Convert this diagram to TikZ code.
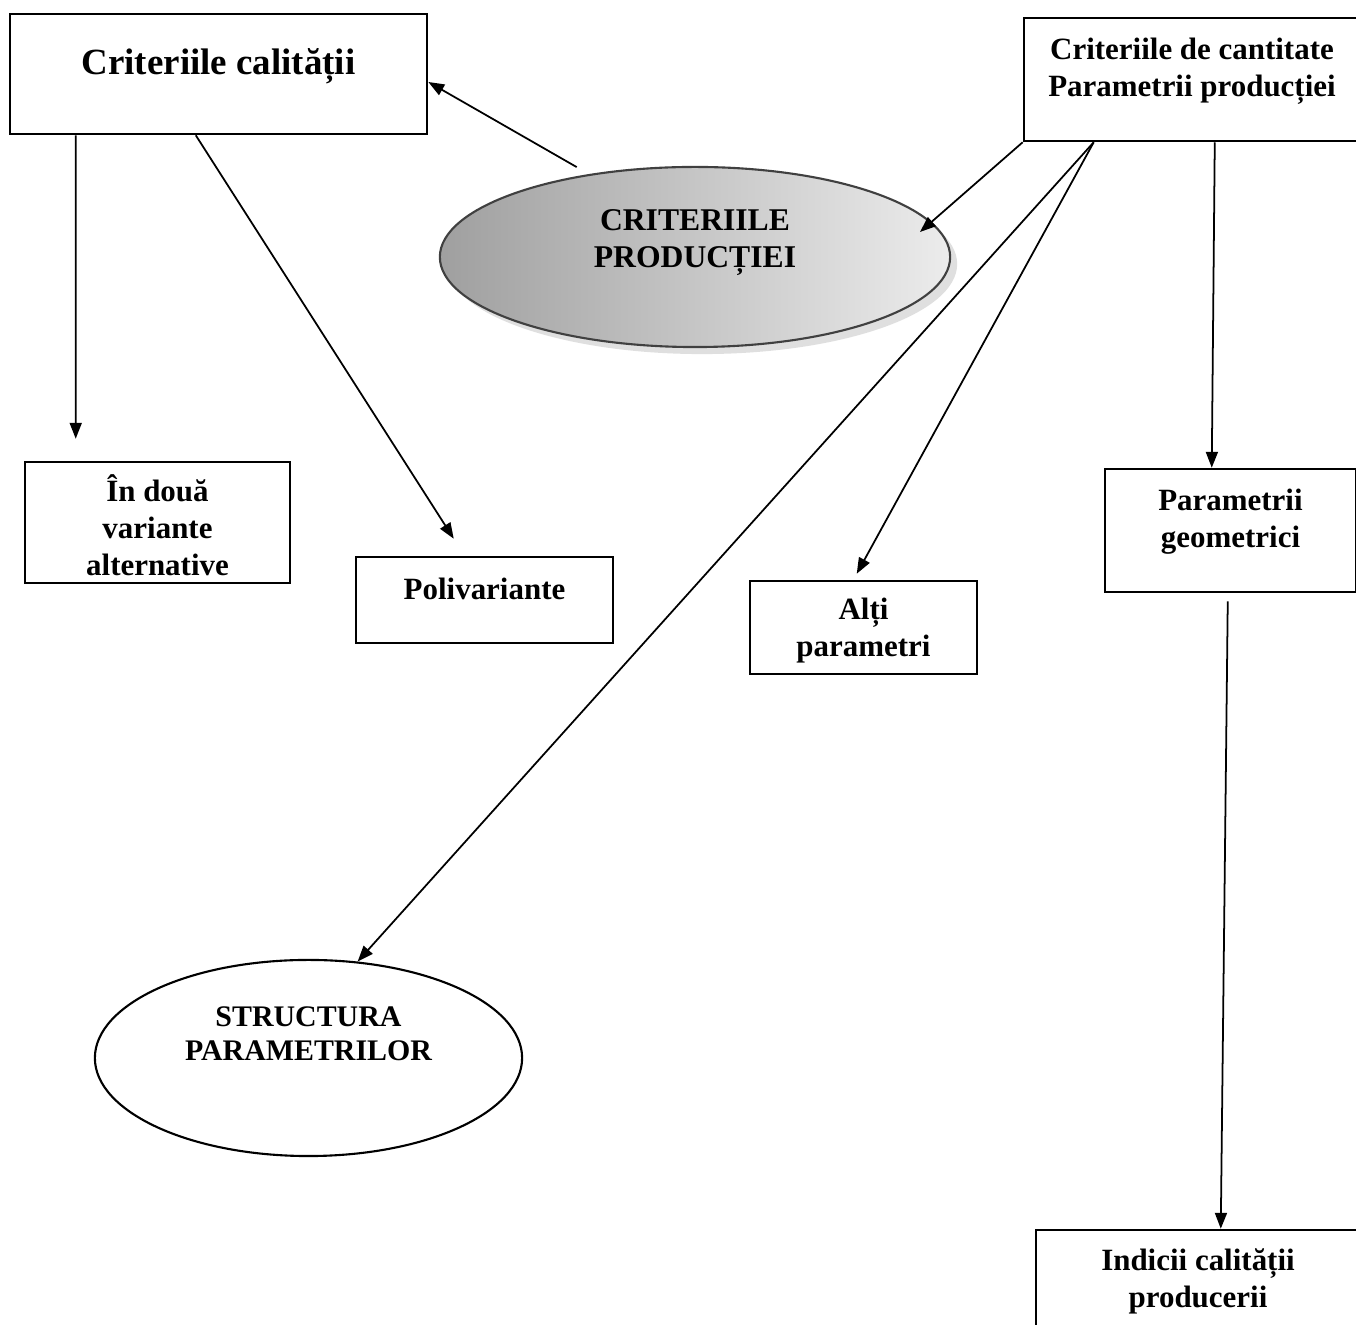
\documentclass[tikz,border=0pt]{standalone}
\usepackage{fontspec}
\setmainfont{Liberation Serif}
\usetikzlibrary{shapes.geometric, arrows.meta, calc, shadows}
% text block pinned to the top of a box of fixed size
\newcommand{\boxlines}[4]{\parbox[c][#2][t]{#1}{\centering\vspace*{#3}\rule{0pt}{8pt}#4}}

\begin{document}
\begin{tikzpicture}[x=0.01cm, y=-0.01cm,
    box/.style={draw, line width=0.7pt, inner sep=0pt, font=\fontsize{8.8}{10.6}\selectfont\bfseries},
    oval/.style={ellipse, draw, line width=0.6pt, inner sep=0pt, font=\fontsize{9}{10.6}\selectfont\bfseries},
    arr/.style={-{Triangle[length=4.5pt, width=3.4pt]}, line width=0.5pt}]
    \fill[white] (0,0) rectangle (1356,1325);
    \clip (0,0) rectangle (1356,1325);
    % quality side
    \node[box] (calit) at (218.5,74) {\fontsize{10.5}{12.6}\selectfont\boxlines{4.17cm}{1.2cm}{0.32cm}{Criteriile calității}};
    \node[box] (dva) at (157.5,522.5) {\boxlines{2.65cm}{1.21cm}{0.11cm}{În două\\variante\\alternative}};
    \node[box] (poli) at (484.5,600) {\boxlines{2.57cm}{0.86cm}{0.14cm}{Polivariante}};
    % centre
    \node[oval, minimum width=5.1cm, minimum height=1.8cm, draw=gray!50!black,
          left color=gray!75, right color=gray!15,
          drop shadow={opacity=0.25, shadow xshift=2pt, shadow yshift=-2pt}]
        (prod) at (695,257) {\boxlines{3cm}{1.2cm}{0.05cm}{CRITERIILE\\PRODUCȚIEI}};
    % quantity side
    \node[box] (cant) at (1192,79.5) {\boxlines{3.36cm}{1.23cm}{0.13cm}{Criteriile de cantitate\\Parametrii producției}};
    \node[box] (alti) at (863.5,627.5) {\boxlines{2.27cm}{0.93cm}{0.10cm}{Alți\\parametri}};
    \node[box] (geom) at (1230.5,530.5) {\boxlines{2.51cm}{1.23cm}{0.13cm}{Parametrii\\geometrici}};
    \node[box] (indicii) at (1198,1280) {\boxlines{3.24cm}{1.0cm}{0.12cm}{Indicii calității\\producerii}};
    \node[oval, minimum width=4.27cm, minimum height=1.96cm, font=\fontsize{8.5}{9.8}\selectfont\bfseries]
        (struct) at (308.5,1058) {\boxlines{2.9cm}{1.2cm}{0cm}{STRUCTURA\\PARAMETRILOR}};
    % arrows
    \draw[arr, shorten <=4pt] (prod.142) -- ($(calit.east)+(0,8)$);
    \draw[arr] ([xshift=0.67cm]calit.south west) -- ([xshift=0.52cm, yshift=0.22cm]dva.north west);
    \draw[arr] ([xshift=1.87cm]calit.south west) -- ([xshift=0.99cm, yshift=0.17cm]poli.north west);
    \draw[arr] (cant.south west) -- ($(prod.center)+(225,-25)$);
    \draw[arr] ([xshift=0.71cm]cant.south west) -- (struct.63);
    \draw[arr] ([xshift=0.71cm]cant.south west) -- ([xshift=1.08cm, yshift=0.06cm]alti.north west);
    \draw[arr] ([xshift=1.92cm]cant.south west) -- ([xshift=1.08cm]geom.north west);
    \draw[arr] ([xshift=1.24cm, yshift=-0.08cm]geom.south west) -- ([xshift=1.86cm]indicii.north west);
\end{tikzpicture}
\end{document}
